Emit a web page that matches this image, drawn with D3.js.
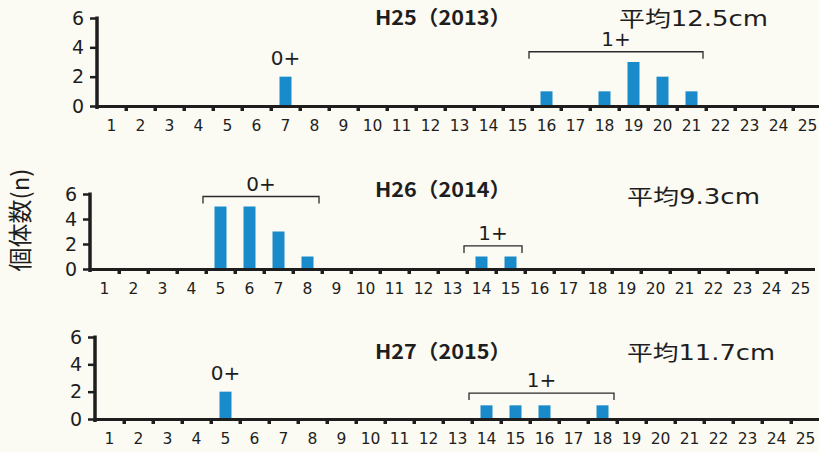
<!DOCTYPE html>
<head>
  <meta charset="utf-8">
  <script src="https://d3js.org/d3.v7.min.js"></script>
  <style>
    body { margin:0; background:#fbfaf3; }
    text { font-family: "DejaVu Sans", "Noto Sans CJK JP", sans-serif; fill:#1e1e1e; }
  </style>
</head>

<body>
  <script>
    var width = 819;
    var height = 452;

    // body length classes (cm)
    var lengths = d3.range(1, 26);
    var yTicks = [0, 2, 4, 6];

    var years = ["H25（2013）", "H26（2014）", "H27（2015）"];
    var means = ["平均12.5cm", "平均9.3cm", "平均11.7cm"];

    // counts per length class, one list per year
    var counts2013 = [{len: 7, n: 2}, {len: 16, n: 1}, {len: 18, n: 1}, {len: 19, n: 3}, {len: 20, n: 2}, {len: 21, n: 1}];
    var counts2014 = [{len: 5, n: 5}, {len: 6, n: 5}, {len: 7, n: 3}, {len: 8, n: 1}, {len: 14, n: 1}, {len: 15, n: 1}];
    var counts2015 = [{len: 5, n: 2}, {len: 14, n: 1}, {len: 15, n: 1}, {len: 16, n: 1}, {len: 18, n: 1}];

    // age groups: label, first and last length class, level in count units
    var groups2013 = [{label: "0+", from: 7, to: 7, level: 3.3, bracket: false},
                      {label: "1+", from: 16, to: 21, level: 3.7, bracket: true}];
    var groups2014 = [{label: "0+", from: 5, to: 8, level: 5.8, bracket: true},
                      {label: "1+", from: 14, to: 15, level: 1.85, bracket: true}];
    var groups2015 = [{label: "0+", from: 5, to: 5, level: 3.4, bracket: false},
                      {label: "1+", from: 14, to: 18, level: 1.9, bracket: true}];

    var panels = [
      {x0: 97, y0: 106, y6: 18, counts: counts2013, groups: groups2013, title: years[0], mean: means[0], titleY: 18, meanX: 619, meanY: 19, meanW: 149},
      {x0: 90, y0: 269, y6: 194, counts: counts2014, groups: groups2014, title: years[1], mean: means[1], titleY: 190, meanX: 627, meanY: 197, meanW: 133},
      {x0: 95, y0: 419, y6: 337, counts: counts2015, groups: groups2015, title: years[2], mean: means[2], titleY: 352, meanX: 627, meanY: 353, meanW: 148}
    ];

    var svg = d3.select("body")
      .append("svg")
      .attr("width", width)
      .attr("height", height);

    panels.forEach(function(p) {
      var g = svg.append("g");
      var x = d3.scaleBand().domain(lengths).range([p.x0, p.x0 + 725]).padding(0);
      var y = d3.scaleLinear().domain([0, 6]).range([p.y0, p.y6]);
      var bw = x.bandwidth();

      // bars
      g.selectAll(".bar")
        .data(p.counts)
        .enter()
        .append("rect")
        .attr("x", function(d) { return x(d.len) + bw / 2 - 6; })
        .attr("width", 12)
        .attr("y", function(d) { return y(d.n); })
        .attr("height", function(d) { return y(0) - y(d.n); })
        .attr("fill", "#1a8bca");

      // y axis
      var ya = g.append("g")
        .attr("transform", "translate(" + p.x0 + ",0)")
        .call(d3.axisLeft(y).tickValues(yTicks).tickFormat(d3.format("d")).tickSize(7).tickPadding(6));
      ya.select(".domain").remove();
      ya.selectAll("line").attr("stroke", "#1e1e1e").attr("stroke-width", 2.5);
      ya.selectAll("text").style("font-size", "19px").style("font-family", "'DejaVu Sans'").attr("fill", "#1e1e1e");
      g.append("line")
        .attr("x1", p.x0).attr("x2", p.x0)
        .attr("y1", y(6) - 1.5).attr("y2", y(0) + 3)
        .attr("stroke", "#1e1e1e").attr("stroke-width", 3.5);

      // x axis
      g.append("line")
        .attr("x1", p.x0).attr("x2", p.x0 + 725)
        .attr("y1", y(0) + 0.5).attr("y2", y(0) + 0.5)
        .attr("stroke", "#1e1e1e").attr("stroke-width", 3);
      g.selectAll(".xt")
        .data(lengths.slice(1))
        .enter()
        .append("rect")
        .attr("x", function(d) { return x(d) - 1.5; })
        .attr("y", y(0) + 1)
        .attr("width", 3.5)
        .attr("height", 4)
        .attr("fill", "#1e1e1e");
      var xa = g.append("g")
        .attr("transform", "translate(0," + y(0) + ")")
        .call(d3.axisBottom(x).tickSize(0).tickPadding(14));
      xa.select(".domain").remove();
      xa.selectAll("text").style("font-size", "15.5px").style("font-family", "'DejaVu Sans'").attr("fill", "#1e1e1e");

      // titles
      g.append("text")
        .attr("x", 443).attr("y", p.titleY)
        .attr("text-anchor", "middle").attr("dy", "0.35em")
        .attr("textLength", 136).attr("lengthAdjust", "spacingAndGlyphs")
        .style("font-size", "20px").style("font-weight", "bold")
        .style("font-family", "'Noto Sans CJK JP', sans-serif")
        .text(p.title);
      g.append("text")
        .attr("x", p.meanX).attr("y", p.meanY)
        .attr("dy", "0.35em")
        .attr("textLength", p.meanW).attr("lengthAdjust", "spacingAndGlyphs")
        .style("font-size", "21px")
        .text(p.mean);

      // age group labels and brackets
      p.groups.forEach(function(a) {
        var left = x(a.from) - 3, right = x(a.to) + bw - 3;
        var ly = y(a.level);
        if (a.bracket) {
          g.append("path")
            .attr("d", "M" + left + "," + (ly + 7) + "V" + ly + "H" + right + "V" + (ly + 7))
            .attr("fill", "none").attr("stroke", "#2a2a2a").attr("stroke-width", 1.3);
        }
        g.append("text")
          .attr("x", (left + right) / 2 + (a.bracket ? 0 : 3))
          .attr("y", ly - (a.bracket ? 13 : 0))
          .attr("text-anchor", "middle").attr("dy", "0.35em")
          .style("font-size", "20px")
          .text(a.label);
      });
    });

    // y label
    svg.append("text")
      .attr("transform", "translate(21,220) rotate(-90)")
      .attr("text-anchor", "middle").attr("dy", "0.35em")
      .style("font-size", "24px")
      .style("font-family", "'Noto Sans CJK JP', sans-serif")
      .text("個体数(n)");
  </script>
</body>
